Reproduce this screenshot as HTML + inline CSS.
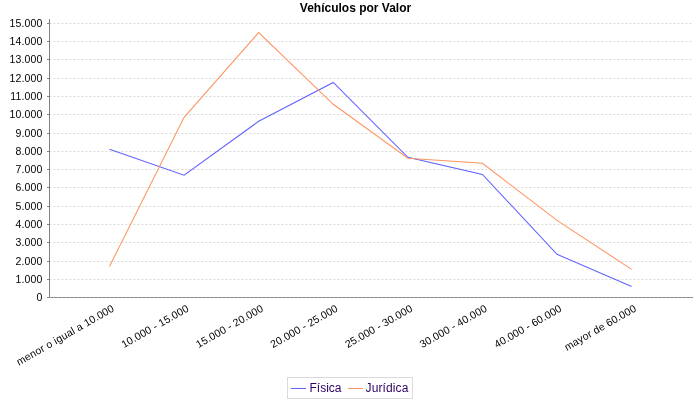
<!DOCTYPE html>
<html><head><meta charset="utf-8"><style>
html,body{margin:0;padding:0;background:#fff;width:700px;height:400px;overflow:hidden}
svg{display:block;font-family:"Liberation Sans",sans-serif;will-change:transform}
</style></head><body>
<svg width="700" height="400" viewBox="0 0 700 400">
<rect width="700" height="400" fill="#fff"/>
<line x1="49.4" y1="279.5" x2="693" y2="279.5" stroke="#dadada" stroke-width="1" stroke-dasharray="2 2"/>
<line x1="49.4" y1="261.5" x2="693" y2="261.5" stroke="#dadada" stroke-width="1" stroke-dasharray="2 2"/>
<line x1="49.4" y1="242.5" x2="693" y2="242.5" stroke="#dadada" stroke-width="1" stroke-dasharray="2 2"/>
<line x1="49.4" y1="224.5" x2="693" y2="224.5" stroke="#dadada" stroke-width="1" stroke-dasharray="2 2"/>
<line x1="49.4" y1="206.5" x2="693" y2="206.5" stroke="#dadada" stroke-width="1" stroke-dasharray="2 2"/>
<line x1="49.4" y1="187.5" x2="693" y2="187.5" stroke="#dadada" stroke-width="1" stroke-dasharray="2 2"/>
<line x1="49.4" y1="169.5" x2="693" y2="169.5" stroke="#dadada" stroke-width="1" stroke-dasharray="2 2"/>
<line x1="49.4" y1="151.5" x2="693" y2="151.5" stroke="#dadada" stroke-width="1" stroke-dasharray="2 2"/>
<line x1="49.4" y1="133.5" x2="693" y2="133.5" stroke="#dadada" stroke-width="1" stroke-dasharray="2 2"/>
<line x1="49.4" y1="114.5" x2="693" y2="114.5" stroke="#dadada" stroke-width="1" stroke-dasharray="2 2"/>
<line x1="49.4" y1="96.5" x2="693" y2="96.5" stroke="#dadada" stroke-width="1" stroke-dasharray="2 2"/>
<line x1="49.4" y1="78.5" x2="693" y2="78.5" stroke="#dadada" stroke-width="1" stroke-dasharray="2 2"/>
<line x1="49.4" y1="59.5" x2="693" y2="59.5" stroke="#dadada" stroke-width="1" stroke-dasharray="2 2"/>
<line x1="49.4" y1="41.5" x2="693" y2="41.5" stroke="#dadada" stroke-width="1" stroke-dasharray="2 2"/>
<line x1="49.4" y1="23.5" x2="693" y2="23.5" stroke="#dadada" stroke-width="1" stroke-dasharray="2 2"/>
<line x1="49.5" y1="19" x2="49.5" y2="298" stroke="#808080" stroke-width="1" shape-rendering="crispEdges"/>
<line x1="49" y1="297.5" x2="693" y2="297.5" stroke="#a0a0a0" stroke-width="1" shape-rendering="crispEdges"/>
<line x1="51.4" y1="297.5" x2="693" y2="297.5" stroke="rgba(0,0,0,0.18)" stroke-width="1" stroke-dasharray="2 2"/>
<line x1="47" y1="297.5" x2="49" y2="297.5" stroke="#808080" stroke-width="1" shape-rendering="crispEdges"/>
<text x="42.6" y="300.7" text-anchor="end" font-size="10.5" letter-spacing="0.15">0</text>
<line x1="47" y1="279.5" x2="49" y2="279.5" stroke="#808080" stroke-width="1" shape-rendering="crispEdges"/>
<text x="42.6" y="282.7" text-anchor="end" font-size="10.5" letter-spacing="0.15">1.000</text>
<line x1="47" y1="261.5" x2="49" y2="261.5" stroke="#808080" stroke-width="1" shape-rendering="crispEdges"/>
<text x="42.6" y="264.7" text-anchor="end" font-size="10.5" letter-spacing="0.15">2.000</text>
<line x1="47" y1="242.5" x2="49" y2="242.5" stroke="#808080" stroke-width="1" shape-rendering="crispEdges"/>
<text x="42.6" y="245.7" text-anchor="end" font-size="10.5" letter-spacing="0.15">3.000</text>
<line x1="47" y1="224.5" x2="49" y2="224.5" stroke="#808080" stroke-width="1" shape-rendering="crispEdges"/>
<text x="42.6" y="227.7" text-anchor="end" font-size="10.5" letter-spacing="0.15">4.000</text>
<line x1="47" y1="206.5" x2="49" y2="206.5" stroke="#808080" stroke-width="1" shape-rendering="crispEdges"/>
<text x="42.6" y="209.7" text-anchor="end" font-size="10.5" letter-spacing="0.15">5.000</text>
<line x1="47" y1="187.5" x2="49" y2="187.5" stroke="#808080" stroke-width="1" shape-rendering="crispEdges"/>
<text x="42.6" y="190.7" text-anchor="end" font-size="10.5" letter-spacing="0.15">6.000</text>
<line x1="47" y1="169.5" x2="49" y2="169.5" stroke="#808080" stroke-width="1" shape-rendering="crispEdges"/>
<text x="42.6" y="172.7" text-anchor="end" font-size="10.5" letter-spacing="0.15">7.000</text>
<line x1="47" y1="151.5" x2="49" y2="151.5" stroke="#808080" stroke-width="1" shape-rendering="crispEdges"/>
<text x="42.6" y="154.7" text-anchor="end" font-size="10.5" letter-spacing="0.15">8.000</text>
<line x1="47" y1="133.5" x2="49" y2="133.5" stroke="#808080" stroke-width="1" shape-rendering="crispEdges"/>
<text x="42.6" y="136.7" text-anchor="end" font-size="10.5" letter-spacing="0.15">9.000</text>
<line x1="47" y1="114.5" x2="49" y2="114.5" stroke="#808080" stroke-width="1" shape-rendering="crispEdges"/>
<text x="42.6" y="117.7" text-anchor="end" font-size="10.5" letter-spacing="0.15">10.000</text>
<line x1="47" y1="96.5" x2="49" y2="96.5" stroke="#808080" stroke-width="1" shape-rendering="crispEdges"/>
<text x="42.6" y="99.7" text-anchor="end" font-size="10.5" letter-spacing="0.15">11.000</text>
<line x1="47" y1="78.5" x2="49" y2="78.5" stroke="#808080" stroke-width="1" shape-rendering="crispEdges"/>
<text x="42.6" y="81.7" text-anchor="end" font-size="10.5" letter-spacing="0.15">12.000</text>
<line x1="47" y1="59.5" x2="49" y2="59.5" stroke="#808080" stroke-width="1" shape-rendering="crispEdges"/>
<text x="42.6" y="62.7" text-anchor="end" font-size="10.5" letter-spacing="0.15">13.000</text>
<line x1="47" y1="41.5" x2="49" y2="41.5" stroke="#808080" stroke-width="1" shape-rendering="crispEdges"/>
<text x="42.6" y="44.7" text-anchor="end" font-size="10.5" letter-spacing="0.15">14.000</text>
<line x1="47" y1="23.5" x2="49" y2="23.5" stroke="#808080" stroke-width="1" shape-rendering="crispEdges"/>
<text x="42.6" y="26.7" text-anchor="end" font-size="10.5" letter-spacing="0.15">15.000</text>
<polyline points="109.50,149.30 184.09,175.20 258.67,121.30 333.26,82.50 407.84,157.30 482.43,174.40 557.02,254.30 631.60,286.40" fill="none" stroke="#6262ff" stroke-width="1.05" stroke-linejoin="miter"/>
<polyline points="109.50,266.40 184.09,117.30 258.67,32.60 333.26,104.30 407.84,158.20 482.43,163.30 557.02,220.40 631.60,269.40" fill="none" stroke="#ff9460" stroke-width="1.05" stroke-linejoin="miter"/>
<text x="111.00" y="303.50" text-anchor="end" font-size="10.5" letter-spacing="0.15" transform="rotate(-30 111.00 303.50)" dominant-baseline="hanging">menor o igual a 10.000</text>
<text x="185.59" y="303.50" text-anchor="end" font-size="10.5" letter-spacing="0.15" transform="rotate(-30 185.59 303.50)" dominant-baseline="hanging">10.000 - 15.000</text>
<text x="260.17" y="303.50" text-anchor="end" font-size="10.5" letter-spacing="0.15" transform="rotate(-30 260.17 303.50)" dominant-baseline="hanging">15.000 - 20.000</text>
<text x="334.76" y="303.50" text-anchor="end" font-size="10.5" letter-spacing="0.15" transform="rotate(-30 334.76 303.50)" dominant-baseline="hanging">20.000 - 25.000</text>
<text x="409.34" y="303.50" text-anchor="end" font-size="10.5" letter-spacing="0.15" transform="rotate(-30 409.34 303.50)" dominant-baseline="hanging">25.000 - 30.000</text>
<text x="483.93" y="303.50" text-anchor="end" font-size="10.5" letter-spacing="0.15" transform="rotate(-30 483.93 303.50)" dominant-baseline="hanging">30.000 - 40.000</text>
<text x="558.52" y="303.50" text-anchor="end" font-size="10.5" letter-spacing="0.15" transform="rotate(-30 558.52 303.50)" dominant-baseline="hanging">40.000 - 60.000</text>
<text x="633.10" y="303.50" text-anchor="end" font-size="10.5" letter-spacing="0.15" transform="rotate(-30 633.10 303.50)" dominant-baseline="hanging">mayor de 60.000</text>
<text x="355.5" y="12" text-anchor="middle" font-size="12" font-weight="bold">Vehículos por Valor</text>
<rect x="287.5" y="377.5" width="125" height="21" fill="#fff" stroke="#dadada" stroke-width="1"/>
<line x1="291" y1="388.5" x2="306" y2="388.5" stroke="#6262ff" stroke-width="1"/>
<text x="309.5" y="392" font-size="12" fill="#2e0066">Física</text>
<line x1="348" y1="388.5" x2="363" y2="388.5" stroke="#ff9460" stroke-width="1"/>
<text x="365.6" y="392" font-size="12" letter-spacing="0.1" fill="#2e0066">Jurídica</text>
</svg>
</body></html>
